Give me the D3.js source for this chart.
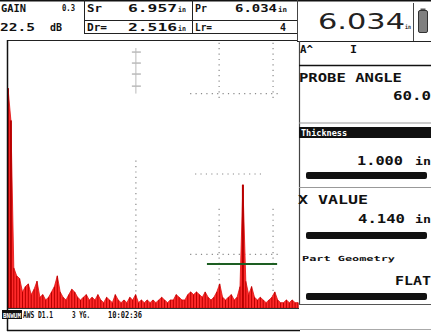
<!DOCTYPE html>
<html>
<head>
<meta charset="utf-8">
<script src="https://cdn.jsdelivr.net/npm/d3@7"></script>
<style>
  html, body { margin: 0; padding: 0; background: #fff; }
  svg { display: block; }
</style>
</head>
<body>
<div id="scope"></div>
<script>
// A-scan amplitude samples (% FSH), one every 0.1 in of range
const ampSamples = [
  82, 70, 15, 12, 11, 6, 8, 9, 5, 7,
  10, 4, 5, 3, 4, 6, 8, 12, 6, 4,
  3, 5, 7, 6, 4, 3, 4, 5, 3, 4,
  3, 5, 3, 2, 4, 3, 2, 5, 3, 2,
  3, 2, 4, 3, 5, 2, 3, 2, 3, 2,
  3, 2, 3, 4, 3, 2, 3, 3, 5, 4,
  3, 3, 5, 6, 5, 6, 5, 4, 6, 4,
  3, 4, 6, 9, 4, 3, 4, 5, 3, 4,
  8, 46, 10, 5, 8, 4, 3, 4, 3, 2,
  3, 4, 6, 3, 2, 2, 3, 2, 3, 2, 2
];
const sampleStep = 0.1;
const rangeMax = 10;

// gate A
const gateStart = 6.86, gateEnd = 9.28, gateLevel = 16.4;

// dotted grid segments (range units / % amplitude)
const gridV = [
  { x: 7.28, a0: 77, a1: 99 }, { x: 9.14, a0: 77, a1: 99 },
  { x: 7.28, a0: 1, a1: 37 }, { x: 9.14, a0: 1, a1: 37 },
  { x: 4.41, a0: 2, a1: 55 }
];
const gridH = [
  { a: 80, x0: 6.28, x1: 9.31 },
  { a: 50, x0: 6.45, x1: 8.86 },
  { a: 20, x0: 6.28, x1: 9.31 }
];
const crossTicks = [95.5, 91.4, 87.3, 82.8];

// readouts
const headerLabels = ['GAIN', 'Sr', 'Dr=', 'Pr', 'Lr='];
const headerValues = ['22.5', '6.957', '2.516', '6.034', '4'];
const bigReading = '6.034';
const panelLabels = ['PROBE ANGLE', 'Thickness', 'X VALUE', 'Part Geometry'];
const panelValues = ['60.0', '1.000', '4.140', 'FLAT'];
const statusItems = ['BNWUM', 'AWS D1.1', '3 YG.', '10:02:36'];

const W = 431, H = 332;
const svg = d3.select('#scope').append('svg')
  .attr('width', W).attr('height', H)
  .style('font-family', 'DejaVu Sans Mono, monospace')
  .style('font-weight', 'bold');

svg.append('rect').attr('width', W).attr('height', H).attr('fill', '#fff');

const x = d3.scaleLinear().domain([0, rangeMax]).range([8, 298]);
const y = d3.scaleLinear().domain([0, 100]).range([308, 40]);

function txt(px, py, s, size, len, fill) {
  const t = svg.append('text')
    .attr('x', px).attr('y', py)
    .attr('font-size', size)
    .attr('fill', fill || '#111')
    .text(s);
  if (len) t.attr('textLength', len).attr('lengthAdjust', 'spacingAndGlyphs');
  return t;
}
function line(x1, y1, x2, y2, col, w) {
  svg.append('line').attr('x1', x1).attr('y1', y1).attr('x2', x2).attr('y2', y2)
    .attr('stroke', col || '#111').attr('stroke-width', w || 1);
}

// ---- grid dots
const grid = svg.append('g').attr('stroke', '#8a8a8a').attr('stroke-width', 1.2)
  .attr('stroke-dasharray', '1.2,4.2');
grid.selectAll('line.v').data(gridV).join('line').attr('class', 'v')
  .attr('x1', d => x(d.x)).attr('x2', d => x(d.x))
  .attr('y1', d => y(d.a1)).attr('y2', d => y(d.a0));
grid.selectAll('line.h').data(gridH).join('line').attr('class', 'h')
  .attr('y1', d => y(d.a)).attr('y2', d => y(d.a))
  .attr('x1', d => x(d.x0)).attr('x2', d => x(d.x1));
svg.append('g').selectAll('line').data(crossTicks).join('line')
  .attr('x1', x(4.41) - 4).attr('x2', x(4.41) + 5)
  .attr('y1', d => y(d)).attr('y2', d => y(d))
  .attr('stroke', '#999').attr('stroke-width', 1);
svg.append('line').attr('x1', x(4.41)).attr('x2', x(4.41))
  .attr('y1', y(97)).attr('y2', y(80)).attr('stroke', '#bbb').attr('stroke-width', 1);

// ---- waveform
const wave = ampSamples.map((a, i) => ({ r: i * sampleStep, a }));
svg.append('path').datum(wave)
  .attr('d', d3.area().x(d => x(d.r)).y0(y(0)).y1(d => y(d.a)))
  .attr('fill', '#ff2a2a').attr('stroke', '#e01010').attr('stroke-width', 0.8);
svg.append('g').selectAll('line').data(wave).join('line')
  .attr('x1', d => x(d.r)).attr('x2', d => x(d.r))
  .attr('y1', y(0)).attr('y2', d => y(d.a))
  .attr('stroke', '#b80000')
  .attr('stroke-width', d => d.a > 20 ? 2 : 1);

// ---- gate
svg.append('line')
  .attr('x1', x(gateStart)).attr('x2', x(gateEnd))
  .attr('y1', y(gateLevel)).attr('y2', y(gateLevel))
  .attr('stroke', '#1d5e22').attr('stroke-width', 2);

// ---- frame
line(0, 0.75, W, 0.75, '#111', 1.5);
line(8, 40.5, 298, 40.5, '#222', 1.2);
line(7.5, 40, 7.5, 331, '#111', 1.5);
line(8, 308.5, 299, 308.5, '#333', 1);
line(7, 330.5, 300, 330.5, '#111', 1.5);
line(300, 329.5, W, 329.5, '#aaa', 1);
line(84.5, 0, 84.5, 33, '#222', 1);
line(192.5, 0, 192.5, 33, '#222', 1);
line(84, 20.5, 298, 20.5, '#222', 1.2);
line(84, 33.5, 298, 33.5, '#222', 1.2);
line(297.5, 0, 297.5, 41, '#444', 1);
line(413.5, 3, 413.5, 41, '#444', 1);
line(297, 41.5, W, 41.5, '#222', 1.2);
line(299.5, 41, 299.5, 305, '#444', 1.2);

// ---- header
txt(1, 12, headerLabels[0], 11, 25);
txt(62, 11, '0.3', 8, 13);
txt(0, 31, headerValues[0], 11, 35);
txt(50, 31, 'dB', 10, 12);
txt(87, 12, headerLabels[1], 10, 15);
txt(128, 12, headerValues[1], 11, 49);
txt(178, 12, 'in', 7, 8);
txt(87, 31, headerLabels[2], 10, 20);
txt(128, 31, headerValues[2], 11, 49);
txt(178, 31, 'in', 7, 8);
txt(195, 12, headerLabels[3], 10, 12);
txt(235, 12, headerValues[3], 11, 42);
txt(278, 12, 'in', 7, 9);
txt(195, 31, headerLabels[4], 10, 17);
txt(280, 31, headerValues[4], 11, 6);

// big reading + battery
txt(318, 29, bigReading, 22, 87, '#222').style('font-weight', 'normal')
  .style('font-family', 'DejaVu Sans, sans-serif');
txt(405, 29, 'in', 6, 6, '#333');
svg.append('rect').attr('x', 420.5).attr('y', 8.5).attr('width', 5).attr('height', 2)
  .attr('fill', '#555');
svg.append('rect').attr('x', 418.5).attr('y', 10.5).attr('width', 9).attr('height', 22)
  .attr('rx', 1.5).attr('fill', '#808080').attr('stroke', '#333').attr('stroke-width', 1);

// ---- right panel
txt(300, 53, 'A^', 11, 13);
txt(350, 53, 'I', 11, 7);
line(299, 65.5, W, 65.5, '#111', 1.6);
txt(299, 82, panelLabels[0], 12, 103);
txt(393, 100, panelValues[0], 12, 38);
line(299, 123, W, 123, '#999', 1);
svg.append('rect').attr('x', 299).attr('y', 127).attr('width', W - 299).attr('height', 11)
  .attr('fill', '#111');
txt(301, 136, panelLabels[1], 8, 46, '#fff');
txt(357, 165, panelValues[1], 12, 46);
txt(415, 165, 'in', 10, 16);
const bars = [172, 232, 293];
svg.append('g').selectAll('rect').data(bars).join('rect')
  .attr('x', 306).attr('y', d => d).attr('width', 121).attr('height', 7)
  .attr('rx', 2).attr('fill', '#111');
line(299, 187.5, W, 187.5, '#999', 1);
txt(298, 204, panelLabels[2], 12, 70);
txt(358, 223, panelValues[2], 12, 47);
txt(415, 223, 'in', 10, 16);
txt(302, 261, panelLabels[3], 7, 93);
txt(395, 285, panelValues[3], 12, 36);
line(299, 304.5, W, 304.5, '#555', 1.2);

// ---- status bar
svg.append('rect').attr('x', 2).attr('y', 310).attr('width', 20).attr('height', 9)
  .attr('fill', '#111');
txt(3, 318, statusItems[0], 7, 18, '#fff');
txt(23, 318, statusItems[1], 8, 30);
txt(72, 318, statusItems[2], 8, 18);
txt(108, 318, statusItems[3], 8, 34);
</script>
</body>
</html>
